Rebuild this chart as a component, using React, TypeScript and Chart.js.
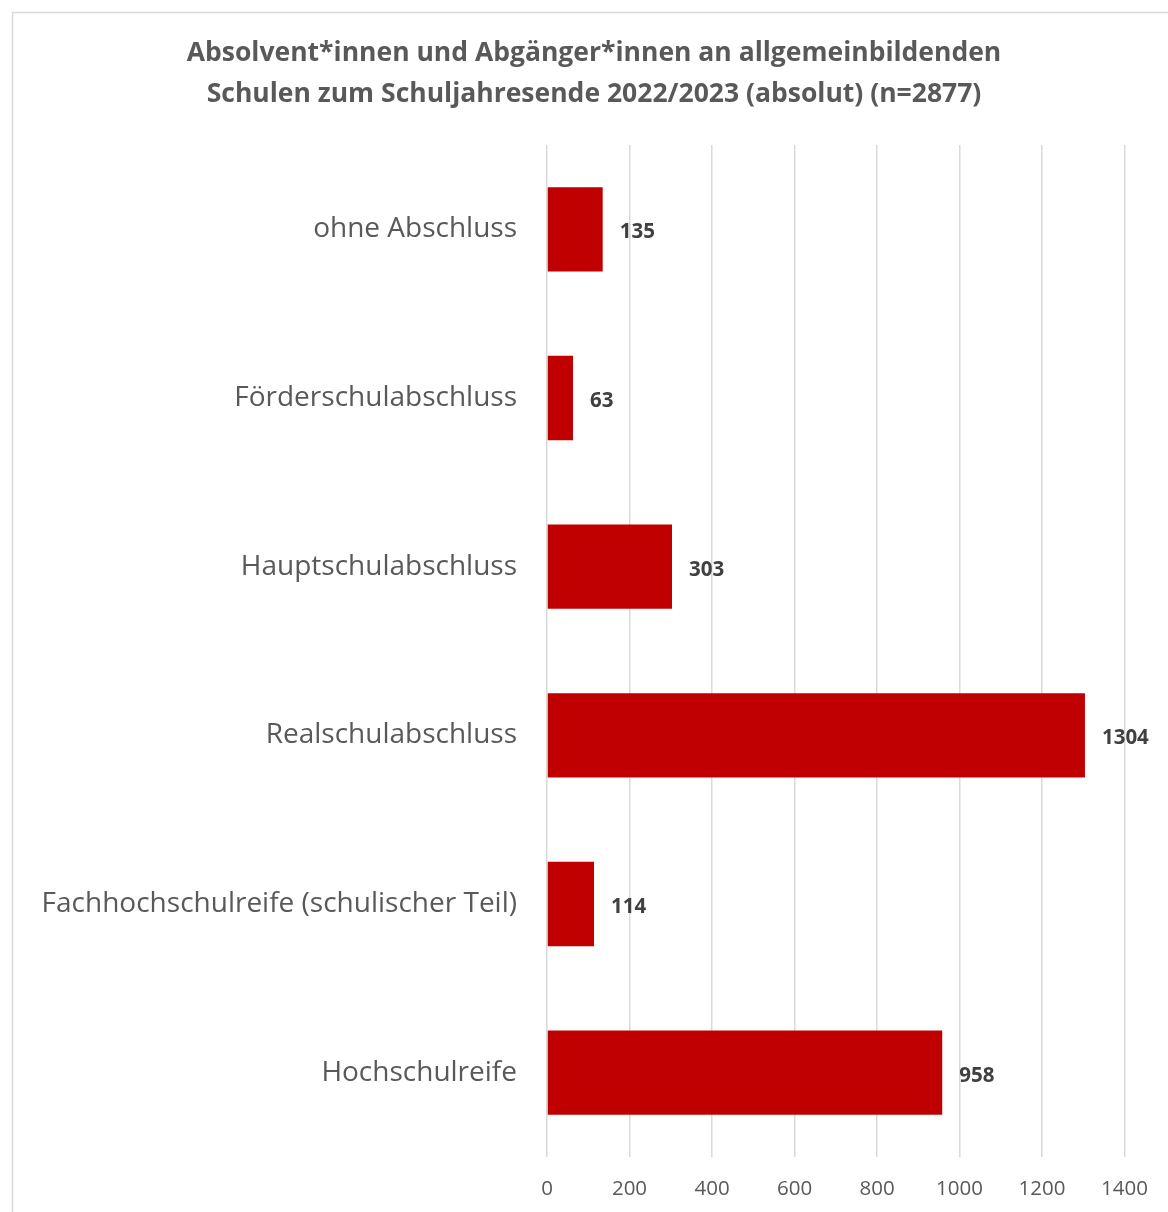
import React, { useEffect, useRef } from "react";
import { Chart, registerables } from "chart.js";

Chart.register(...registerables);

const titleLines = [
  "Absolvent*innen und Abgänger*innen an allgemeinbildenden",
  "Schulen zum Schuljahresende 2022/2023 (absolut) (n=2877)",
];
const categories = [
  "ohne Abschluss",
  "Förderschulabschluss",
  "Hauptschulabschluss",
  "Realschulabschluss",
  "Fachhochschulreife (schulischer Teil)",
  "Hochschulreife",
];
const values = [135, 63, 303, 1304, 114, 958];
const xMax = 1400;
const xStep = 200;

const FONT = "'Open Sans', sans-serif";

export default function App() {
  const ref = useRef<HTMLCanvasElement | null>(null);
  useEffect(() => {
    if (!ref.current) return;
    const framePlugin = {
      id: "frame",
      beforeDraw(chart: any) {
        const ctx = chart.ctx;
        ctx.save();
        ctx.fillStyle = "#ffffff";
        ctx.fillRect(0, 0, chart.width, chart.height);
        ctx.strokeStyle = "#d9d9d9";
        ctx.lineWidth = 1.5;
        ctx.strokeRect(12.5, 12.5, 1300, 1300);
        ctx.fillStyle = "#595959";
        ctx.font = `bold 26.5px ${FONT}`;
        ctx.textAlign = "center";
        ctx.textBaseline = "middle";
        ctx.fillText(titleLines[0], 594, 53);
        ctx.fillText(titleLines[1], 594, 94);
        ctx.restore();
      },
    };
    const labelPlugin = {
      id: "valLabels",
      afterDatasetsDraw(chart: any) {
        const ctx = chart.ctx;
        const meta = chart.getDatasetMeta(0);
        ctx.save();
        ctx.fillStyle = "#404040";
        ctx.font = `bold 20.5px ${FONT}`;
        ctx.textAlign = "left";
        ctx.textBaseline = "middle";
        meta.data.forEach((el: any, i: number) => {
          ctx.fillText(String(values[i]), el.x + 17, el.y + 3);
        });
        ctx.restore();
      },
    };
    const chart = new Chart(ref.current, {
      type: "bar",
      data: {
        labels: categories,
        datasets: [
          {
            data: values,
            backgroundColor: "#C00000",
            borderWidth: 0,
            categoryPercentage: 1,
            barPercentage: 0.5,
          },
        ],
      },
      options: {
        indexAxis: "y",
        animation: false,
        responsive: false,
        maintainAspectRatio: false,
        layout: { padding: { top: 145, right: 41, left: 0, bottom: 0 } },
        plugins: {
          legend: { display: false },
          title: { display: false },
          tooltip: { enabled: false },
        },
        scales: {
          x: {
            min: 0,
            max: xMax,
            ticks: {
              stepSize: xStep,
              color: "#595959",
              font: { family: FONT, size: 20.5 },
              padding: 20,
              callback: (v: any) => String(v),
            },
            grid: { color: "#d9d9d9", lineWidth: 1.5, drawTicks: false },
            border: { display: false },
            afterFit(scale: any) {
              scale.height = 55;
            },
          },
          y: {
            ticks: {
              color: "#595959",
              font: { family: FONT, size: 28 },
              padding: 30,
            },
            grid: { display: false, drawTicks: false },
            border: { display: false },
            afterFit(scale: any) {
              scale.width = 547;
            },
          },
        },
      },
      plugins: [framePlugin, labelPlugin],
    });
    return () => chart.destroy();
  }, []);
  return (
    <div style={{ position: "absolute", left: 0, top: 0, width: 1168, height: 1212 }}>
      <canvas ref={ref} width={1168} height={1212} style={{ width: 1168, height: 1212 }} />
    </div>
  );
}
